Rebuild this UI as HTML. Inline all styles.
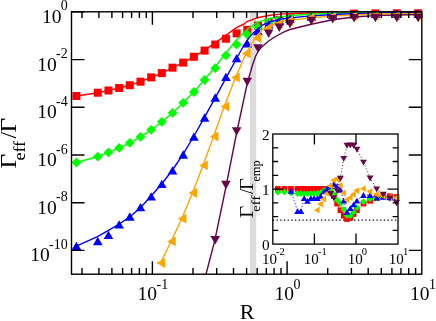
<!DOCTYPE html><html><head><meta charset="utf-8"><style>html,body{margin:0;padding:0;background:#fff}svg{display:block;will-change:transform}text{font-family:"Liberation Serif",serif;fill:#000}</style></head><body>
<svg width="436" height="321" viewBox="0 0 436 321">
<rect width="436" height="321" fill="#fff"/>
<rect x="250.0" y="11.8" width="6.2" height="261.2" fill="#dcdcdc"/>
<clipPath id="cm"><rect x="66.5" y="0" width="362.3" height="274.3"/></clipPath>
<g clip-path="url(#cm)">
<polyline fill="none" stroke="#ff0000" stroke-width="1.4" stroke-linejoin="round"  points="76.4,96.0 97.9,92.7 108.5,90.5 119.1,88.0 130.0,85.2 140.6,81.7 151.2,77.4 162.0,73.1 172.5,67.7 183.1,62.6 193.7,56.8 204.3,50.3 214.7,43.1 225.5,35.5 236.4,27.6 244.0,24.0 246.9,21.7 257.1,17.8 270.2,15.2 283.3,13.9 300.0,13.2 332.0,12.6 375.0,12.2 421.8,12.0"/>
<rect x="72.40" y="92.00" width="8.00" height="8.00" fill="#ff0000"/>
<rect x="93.76" y="88.70" width="8.00" height="8.00" fill="#ff0000"/>
<rect x="104.44" y="86.50" width="8.00" height="8.00" fill="#ff0000"/>
<rect x="115.12" y="84.00" width="8.00" height="8.00" fill="#ff0000"/>
<rect x="125.80" y="81.20" width="8.00" height="8.00" fill="#ff0000"/>
<rect x="136.48" y="77.70" width="8.00" height="8.00" fill="#ff0000"/>
<rect x="147.16" y="73.40" width="8.00" height="8.00" fill="#ff0000"/>
<rect x="157.84" y="69.10" width="8.00" height="8.00" fill="#ff0000"/>
<rect x="168.52" y="63.70" width="8.00" height="8.00" fill="#ff0000"/>
<rect x="179.20" y="58.60" width="8.00" height="8.00" fill="#ff0000"/>
<rect x="189.88" y="52.80" width="8.00" height="8.00" fill="#ff0000"/>
<rect x="200.56" y="46.60" width="8.00" height="8.00" fill="#ff0000"/>
<rect x="211.24" y="40.50" width="8.00" height="8.00" fill="#ff0000"/>
<rect x="221.92" y="34.70" width="8.00" height="8.00" fill="#ff0000"/>
<rect x="232.60" y="29.40" width="8.00" height="8.00" fill="#ff0000"/>
<rect x="243.28" y="25.80" width="8.00" height="8.00" fill="#ff0000"/>
<rect x="253.96" y="21.60" width="8.00" height="8.00" fill="#ff0000"/>
<rect x="264.64" y="18.30" width="8.00" height="8.00" fill="#ff0000"/>
<rect x="275.32" y="16.00" width="8.00" height="8.00" fill="#ff0000"/>
<rect x="286.00" y="14.20" width="8.00" height="8.00" fill="#ff0000"/>
<rect x="307.36" y="11.60" width="8.00" height="8.00" fill="#ff0000"/>
<rect x="328.72" y="10.90" width="8.00" height="8.00" fill="#ff0000"/>
<rect x="350.08" y="9.60" width="8.00" height="8.00" fill="#ff0000"/>
<rect x="371.44" y="9.40" width="8.00" height="8.00" fill="#ff0000"/>
<rect x="392.80" y="9.30" width="8.00" height="8.00" fill="#ff0000"/>
<rect x="414.16" y="9.30" width="8.00" height="8.00" fill="#ff0000"/>
<polyline fill="none" stroke="#00ff00" stroke-width="1.4" stroke-linejoin="round"  points="76.4,162.5 97.9,156.5 108.5,152.4 119.1,147.9 130.0,142.8 140.6,136.8 151.2,129.8 162.0,121.8 172.5,112.9 183.1,102.8 193.7,92.0 204.3,80.0 214.9,67.3 225.5,53.5 231.4,46.3 236.4,40.0 244.0,32.5 246.9,29.6 257.1,22.4 270.2,18.2 283.3,16.5 300.0,14.8 332.0,13.3 375.0,12.5 421.8,12.1"/>
<polygon fill="#00ff00" points="71.50,162.50 76.40,157.60 81.30,162.50 76.40,167.40"/>
<polygon fill="#00ff00" points="92.86,156.70 97.76,151.80 102.66,156.70 97.76,161.60"/>
<polygon fill="#00ff00" points="103.54,152.40 108.44,147.50 113.34,152.40 108.44,157.30"/>
<polygon fill="#00ff00" points="114.22,147.90 119.12,143.00 124.02,147.90 119.12,152.80"/>
<polygon fill="#00ff00" points="124.90,142.80 129.80,137.90 134.70,142.80 129.80,147.70"/>
<polygon fill="#00ff00" points="135.58,136.80 140.48,131.90 145.38,136.80 140.48,141.70"/>
<polygon fill="#00ff00" points="146.26,129.80 151.16,124.90 156.06,129.80 151.16,134.70"/>
<polygon fill="#00ff00" points="156.94,121.80 161.84,116.90 166.74,121.80 161.84,126.70"/>
<polygon fill="#00ff00" points="167.62,112.90 172.52,108.00 177.42,112.90 172.52,117.80"/>
<polygon fill="#00ff00" points="178.30,102.80 183.20,97.90 188.10,102.80 183.20,107.70"/>
<polygon fill="#00ff00" points="188.98,92.00 193.88,87.10 198.78,92.00 193.88,96.90"/>
<polygon fill="#00ff00" points="199.66,80.00 204.56,75.10 209.46,80.00 204.56,84.90"/>
<polygon fill="#00ff00" points="210.34,68.20 215.24,63.30 220.14,68.20 215.24,73.10"/>
<polygon fill="#00ff00" points="221.02,55.40 225.92,50.50 230.82,55.40 225.92,60.30"/>
<polygon fill="#00ff00" points="231.70,44.50 236.60,39.60 241.50,44.50 236.60,49.40"/>
<polygon fill="#00ff00" points="242.38,34.60 247.28,29.70 252.18,34.60 247.28,39.50"/>
<polygon fill="#00ff00" points="253.06,27.60 257.96,22.70 262.86,27.60 257.96,32.50"/>
<polygon fill="#00ff00" points="263.74,23.00 268.64,18.10 273.54,23.00 268.64,27.90"/>
<polygon fill="#00ff00" points="274.42,20.30 279.32,15.40 284.22,20.30 279.32,25.20"/>
<polygon fill="#00ff00" points="285.10,18.30 290.00,13.40 294.90,18.30 290.00,23.20"/>
<polygon fill="#00ff00" points="306.46,16.30 311.36,11.40 316.26,16.30 311.36,21.20"/>
<polygon fill="#00ff00" points="327.82,15.60 332.72,10.70 337.62,15.60 332.72,20.50"/>
<polygon fill="#00ff00" points="349.18,15.80 354.08,10.90 358.98,15.80 354.08,20.70"/>
<polygon fill="#00ff00" points="370.54,15.80 375.44,10.90 380.34,15.80 375.44,20.70"/>
<polygon fill="#00ff00" points="391.90,15.80 396.80,10.90 401.70,15.80 396.80,20.70"/>
<polygon fill="#00ff00" points="413.26,15.80 418.16,10.90 423.06,15.80 418.16,20.70"/>
<polyline fill="none" stroke="#0000ff" stroke-width="1.4" stroke-linejoin="round"  points="76.4,246.2 97.9,236.3 108.5,230.4 119.1,224.0 130.0,216.8 140.6,207.5 151.2,196.0 162.0,183.5 172.5,170.0 183.1,154.2 193.7,136.5 204.3,117.6 214.9,98.4 225.5,78.8 236.6,58.5 244.0,45.0 250.0,36.3 257.1,29.6 263.0,24.8 270.2,21.7 283.3,18.7 300.0,16.9 332.0,14.5 375.0,13.0 421.8,12.3"/>
<polygon fill="#0000ff" points="71.60,249.95 81.20,249.95 76.40,241.65"/>
<polygon fill="#0000ff" points="92.96,245.15 102.56,245.15 97.76,236.85"/>
<polygon fill="#0000ff" points="103.64,239.05 113.24,239.05 108.44,230.75"/>
<polygon fill="#0000ff" points="114.32,228.45 123.92,228.45 119.12,220.15"/>
<polygon fill="#0000ff" points="125.00,220.65 134.60,220.65 129.80,212.35"/>
<polygon fill="#0000ff" points="135.68,211.35 145.28,211.35 140.48,203.05"/>
<polygon fill="#0000ff" points="146.36,200.45 155.96,200.45 151.16,192.15"/>
<polygon fill="#0000ff" points="157.04,187.95 166.64,187.95 161.84,179.65"/>
<polygon fill="#0000ff" points="167.72,174.55 177.32,174.55 172.52,166.25"/>
<polygon fill="#0000ff" points="178.40,158.65 188.00,158.65 183.20,150.35"/>
<polygon fill="#0000ff" points="189.08,140.75 198.68,140.75 193.88,132.45"/>
<polygon fill="#0000ff" points="199.76,121.65 209.36,121.65 204.56,113.35"/>
<polygon fill="#0000ff" points="210.44,101.65 220.04,101.65 215.24,93.35"/>
<polygon fill="#0000ff" points="221.12,80.95 230.72,80.95 225.92,72.65"/>
<polygon fill="#0000ff" points="231.80,62.35 241.40,62.35 236.60,54.05"/>
<polygon fill="#0000ff" points="242.48,47.45 252.08,47.45 247.28,39.15"/>
<polygon fill="#0000ff" points="253.16,35.15 262.76,35.15 257.96,26.85"/>
<polygon fill="#0000ff" points="263.84,28.55 273.44,28.55 268.64,20.25"/>
<polygon fill="#0000ff" points="274.52,25.15 284.12,25.15 279.32,16.85"/>
<polygon fill="#0000ff" points="285.20,22.65 294.80,22.65 290.00,14.35"/>
<polygon fill="#0000ff" points="306.56,20.65 316.16,20.65 311.36,12.35"/>
<polygon fill="#0000ff" points="327.92,19.35 337.52,19.35 332.72,11.05"/>
<polygon fill="#0000ff" points="349.28,18.45 358.88,18.45 354.08,10.15"/>
<polygon fill="#0000ff" points="370.64,18.05 380.24,18.05 375.44,9.75"/>
<polygon fill="#0000ff" points="392.00,17.85 401.60,17.85 396.80,9.55"/>
<polygon fill="#0000ff" points="413.36,17.85 422.96,17.85 418.16,9.55"/>
<polyline fill="none" stroke="#ffa500" stroke-width="1.4" stroke-linejoin="round"  points="160.6,262.8 171.2,241.0 181.8,218.7 192.4,193.0 203.0,165.4 213.6,136.3 224.2,106.6 235.3,78.0 246.0,53.5 252.2,43.0 256.3,36.5 262.5,29.5 270.2,25.0 283.3,21.1 300.0,19.1 332.0,16.0 375.0,14.0 421.8,13.4"/>
<polygon fill="#ffa500" points="165.04,258.10 165.04,267.90 156.44,263.00"/>
<polygon fill="#ffa500" points="175.72,236.50 175.72,246.30 167.12,241.40"/>
<polygon fill="#ffa500" points="186.40,213.80 186.40,223.60 177.80,218.70"/>
<polygon fill="#ffa500" points="197.08,188.10 197.08,197.90 188.48,193.00"/>
<polygon fill="#ffa500" points="207.76,160.50 207.76,170.30 199.16,165.40"/>
<polygon fill="#ffa500" points="218.44,131.60 218.44,141.40 209.84,136.50"/>
<polygon fill="#ffa500" points="229.12,101.70 229.12,111.50 220.52,106.60"/>
<polygon fill="#ffa500" points="239.80,72.60 239.80,82.40 231.20,77.50"/>
<polygon fill="#ffa500" points="250.48,48.50 250.48,58.30 241.88,53.40"/>
<polygon fill="#ffa500" points="261.16,33.30 261.16,43.10 252.56,38.20"/>
<polygon fill="#ffa500" points="271.84,23.30 271.84,33.10 263.24,28.20"/>
<polygon fill="#ffa500" points="282.52,19.10 282.52,28.90 273.92,24.00"/>
<polygon fill="#ffa500" points="293.20,16.10 293.20,25.90 284.60,21.00"/>
<polygon fill="#ffa500" points="314.56,12.80 314.56,22.60 305.96,17.70"/>
<polygon fill="#ffa500" points="335.92,11.70 335.92,21.50 327.32,16.60"/>
<polygon fill="#ffa500" points="357.28,11.10 357.28,20.90 348.68,16.00"/>
<polygon fill="#ffa500" points="378.64,10.80 378.64,20.60 370.04,15.70"/>
<polygon fill="#ffa500" points="400.00,10.60 400.00,20.40 391.40,15.50"/>
<polygon fill="#ffa500" points="421.36,10.60 421.36,20.40 412.76,15.50"/>
<polyline fill="none" stroke="#670748" stroke-width="1.4" stroke-linejoin="round"  points="206.0,274.3 214.8,240.4 225.8,187.5 236.6,133.0 247.2,83.5 252.5,65.0 255.5,56.5 258.0,51.5 260.5,48.2 264.0,45.0 268.3,41.3 272.0,38.7 277.4,35.5 283.6,32.2 289.9,29.5 300.0,27.0 311.2,24.2 332.6,19.8 353.8,17.0 375.0,15.6 396.0,15.0 421.8,14.5"/>
<polygon fill="#670748" points="210.44,236.05 220.04,236.05 215.24,244.55"/>
<polygon fill="#670748" points="221.12,180.75 230.72,180.75 225.92,189.25"/>
<polygon fill="#670748" points="231.80,127.25 241.40,127.25 236.60,135.75"/>
<polygon fill="#670748" points="242.48,77.75 252.08,77.75 247.28,86.25"/>
<polygon fill="#670748" points="253.16,44.35 262.76,44.35 257.96,52.85"/>
<polygon fill="#670748" points="263.84,29.55 273.44,29.55 268.64,38.05"/>
<polygon fill="#670748" points="274.52,23.55 284.12,23.55 279.32,32.05"/>
<polygon fill="#670748" points="285.20,19.75 294.80,19.75 290.00,28.25"/>
<polygon fill="#670748" points="306.56,16.75 316.16,16.75 311.36,25.25"/>
<polygon fill="#670748" points="327.92,15.05 337.52,15.05 332.72,23.55"/>
<polygon fill="#670748" points="349.28,14.05 358.88,14.05 354.08,22.55"/>
<polygon fill="#670748" points="370.64,13.85 380.24,13.85 375.44,22.35"/>
<polygon fill="#670748" points="392.00,13.75 401.60,13.75 396.80,22.25"/>
<polygon fill="#670748" points="413.36,13.75 422.96,13.75 418.16,22.25"/>
</g>
<g stroke="#000" stroke-width="1.4" fill="none" stroke-linecap="butt">
<rect x="71.5" y="11.8" width="350.3" height="262.4"/>
<path d="M71.5 11.8h13.0 M421.8 11.8h-13.0 M71.5 59.6h13.0 M421.8 59.6h-13.0 M71.5 107.3h13.0 M421.8 107.3h-13.0 M71.5 155.0h13.0 M421.8 155.0h-13.0 M71.5 202.7h13.0 M421.8 202.7h-13.0 M71.5 250.4h13.0 M421.8 250.4h-13.0 M82.0 274.3v-6.3 M82.0 11.8v6.3 M98.9 274.3v-6.3 M98.9 11.8v6.3 M111.9 274.3v-6.3 M111.9 11.8v6.3 M122.6 274.3v-6.3 M122.6 11.8v6.3 M131.6 274.3v-6.3 M131.6 11.8v6.3 M139.4 274.3v-6.3 M139.4 11.8v6.3 M146.3 274.3v-6.3 M146.3 11.8v6.3 M152.4 274.3v-13.0 M152.4 11.8v13.0 M193.0 274.3v-6.3 M193.0 11.8v6.3 M216.7 274.3v-6.3 M216.7 11.8v6.3 M233.5 274.3v-6.3 M233.5 11.8v6.3 M246.6 274.3v-6.3 M246.6 11.8v6.3 M257.2 274.3v-6.3 M257.2 11.8v6.3 M266.3 274.3v-6.3 M266.3 11.8v6.3 M274.1 274.3v-6.3 M274.1 11.8v6.3 M281.0 274.3v-6.3 M281.0 11.8v6.3 M287.1 274.3v-13.0 M287.1 11.8v13.0 M327.7 274.3v-6.3 M327.7 11.8v6.3 M351.4 274.3v-6.3 M351.4 11.8v6.3 M368.2 274.3v-6.3 M368.2 11.8v6.3 M381.3 274.3v-6.3 M381.3 11.8v6.3 M391.9 274.3v-6.3 M391.9 11.8v6.3 M400.9 274.3v-6.3 M400.9 11.8v6.3 M408.7 274.3v-6.3 M408.7 11.8v6.3 M415.6 274.3v-6.3 M415.6 11.8v6.3"/>
</g>
<text x="67.7" y="22.8" text-anchor="end" font-size="19.5">10<tspan font-size="14" dx="-0.8" dy="-12.4">0</tspan></text>
<text x="67.7" y="70.5" text-anchor="end" font-size="19.5">10<tspan font-size="14" dx="-0.8" dy="-12.4">-2</tspan></text>
<text x="67.7" y="118.2" text-anchor="end" font-size="19.5">10<tspan font-size="14" dx="-0.8" dy="-12.4">-4</tspan></text>
<text x="67.7" y="165.9" text-anchor="end" font-size="19.5">10<tspan font-size="14" dx="-0.8" dy="-12.4">-6</tspan></text>
<text x="67.7" y="213.6" text-anchor="end" font-size="19.5">10<tspan font-size="14" dx="-0.8" dy="-12.4">-8</tspan></text>
<text x="67.7" y="261.3" text-anchor="end" font-size="19.5">10<tspan font-size="14" dx="-0.8" dy="-12.4">-10</tspan></text>
<text x="137.6" y="300.3" font-size="19.5">10<tspan font-size="14" dx="-0.5" dy="-11.8">-1</tspan></text>
<text x="274.6" y="300.3" font-size="19.5">10<tspan font-size="14" dx="-0.5" dy="-11.8">0</tspan></text>
<text x="410.0" y="300.3" font-size="19.5">10<tspan font-size="14" dx="-0.5" dy="-11.8">1</tspan></text>
<text x="239.8" y="318.9" font-size="22">R</text>
<text transform="translate(16.30,168.50) rotate(-90) scale(1.060,1)" font-size="24.00" style="font-variant-ligatures:none">&#915;</text>
<text transform="translate(25.40,160.60) rotate(-90) scale(1.130,1)" font-size="16.00" style="font-variant-ligatures:none">eff</text>
<text transform="translate(16.00,138.40) rotate(-90) scale(1.000,1)" font-size="23.50" style="font-variant-ligatures:none">/</text>
<text transform="translate(16.30,132.50) rotate(-90) scale(1.060,1)" font-size="24.00" style="font-variant-ligatures:none">&#915;</text>
<rect x="272.8" y="134.0" width="125.2" height="110.1" fill="#fff"/>
<line x1="272.8" y1="220.1" x2="398.0" y2="220.1" stroke="#000" stroke-width="1.4" stroke-dasharray="1.3 2.4"/>
<clipPath id="ci"><rect x="272.8" y="134.0" width="128.2" height="110.1"/></clipPath>
<g clip-path="url(#ci)">
<polyline fill="none" stroke="#ff0000" stroke-width="1.0" stroke-linejoin="round" stroke-dasharray="1 2.2" points="277.8,188.9 284.4,188.9 291.0,188.9 297.6,188.9 300.9,188.9 304.2,188.9 307.5,188.9 310.8,188.9 314.1,188.9 317.4,188.9 320.7,188.9 323.9,188.9 327.2,188.9 330.5,190.5 333.8,196.0 337.1,203.6 340.4,210.2 343.7,215.8 347.0,219.0 350.3,217.7 353.6,214.0 356.9,210.2 363.5,203.6 370.1,200.8 376.7,198.0 383.3,196.2 389.9,196.2 396.4,197.0"/>
<rect x="274.97" y="186.05" width="5.70" height="5.70" fill="#ff0000"/>
<rect x="281.56" y="186.05" width="5.70" height="5.70" fill="#ff0000"/>
<rect x="288.15" y="186.05" width="5.70" height="5.70" fill="#ff0000"/>
<rect x="294.74" y="186.05" width="5.70" height="5.70" fill="#ff0000"/>
<rect x="298.03" y="186.05" width="5.70" height="5.70" fill="#ff0000"/>
<rect x="301.33" y="186.05" width="5.70" height="5.70" fill="#ff0000"/>
<rect x="304.62" y="186.05" width="5.70" height="5.70" fill="#ff0000"/>
<rect x="307.92" y="186.05" width="5.70" height="5.70" fill="#ff0000"/>
<rect x="311.21" y="186.05" width="5.70" height="5.70" fill="#ff0000"/>
<rect x="314.51" y="186.05" width="5.70" height="5.70" fill="#ff0000"/>
<rect x="317.80" y="186.05" width="5.70" height="5.70" fill="#ff0000"/>
<rect x="321.10" y="186.05" width="5.70" height="5.70" fill="#ff0000"/>
<rect x="324.39" y="186.05" width="5.70" height="5.70" fill="#ff0000"/>
<rect x="327.69" y="187.65" width="5.70" height="5.70" fill="#ff0000"/>
<rect x="330.98" y="193.15" width="5.70" height="5.70" fill="#ff0000"/>
<rect x="334.28" y="200.75" width="5.70" height="5.70" fill="#ff0000"/>
<rect x="337.57" y="207.35" width="5.70" height="5.70" fill="#ff0000"/>
<rect x="340.87" y="212.95" width="5.70" height="5.70" fill="#ff0000"/>
<rect x="344.16" y="216.15" width="5.70" height="5.70" fill="#ff0000"/>
<rect x="347.46" y="214.85" width="5.70" height="5.70" fill="#ff0000"/>
<rect x="350.75" y="211.15" width="5.70" height="5.70" fill="#ff0000"/>
<rect x="354.05" y="207.35" width="5.70" height="5.70" fill="#ff0000"/>
<rect x="360.64" y="200.75" width="5.70" height="5.70" fill="#ff0000"/>
<rect x="367.23" y="197.95" width="5.70" height="5.70" fill="#ff0000"/>
<rect x="373.82" y="195.15" width="5.70" height="5.70" fill="#ff0000"/>
<rect x="380.41" y="193.35" width="5.70" height="5.70" fill="#ff0000"/>
<rect x="387.00" y="193.35" width="5.70" height="5.70" fill="#ff0000"/>
<rect x="393.59" y="194.15" width="5.70" height="5.70" fill="#ff0000"/>
<polyline fill="none" stroke="#00ff00" stroke-width="1.0" stroke-linejoin="round" stroke-dasharray="1 2.2" points="277.8,192.2 284.4,192.0 291.0,193.0 297.6,193.6 300.9,193.6 304.2,193.8 307.5,193.8 310.8,193.6 314.1,193.6 317.4,193.4 320.7,192.5 323.9,190.5 327.2,188.9 330.5,190.0 333.8,194.0 337.1,200.0 340.4,203.5 343.7,209.5 347.0,215.8 350.3,215.8 353.6,212.0 356.9,207.4 363.5,201.8 370.1,199.0 376.7,198.0 383.3,197.0 389.9,198.0 396.4,198.0"/>
<polygon fill="#00ff00" points="274.52,192.20 277.82,188.90 281.12,192.20 277.82,195.50"/>
<polygon fill="#00ff00" points="281.11,192.00 284.41,188.70 287.71,192.00 284.41,195.30"/>
<polygon fill="#00ff00" points="287.70,193.00 291.00,189.70 294.30,193.00 291.00,196.30"/>
<polygon fill="#00ff00" points="294.29,193.60 297.59,190.30 300.89,193.60 297.59,196.90"/>
<polygon fill="#00ff00" points="297.58,193.60 300.88,190.30 304.19,193.60 300.88,196.90"/>
<polygon fill="#00ff00" points="300.88,193.80 304.18,190.50 307.48,193.80 304.18,197.10"/>
<polygon fill="#00ff00" points="304.18,193.80 307.48,190.50 310.78,193.80 307.48,197.10"/>
<polygon fill="#00ff00" points="307.47,193.60 310.77,190.30 314.07,193.60 310.77,196.90"/>
<polygon fill="#00ff00" points="310.76,193.60 314.06,190.30 317.37,193.60 314.06,196.90"/>
<polygon fill="#00ff00" points="314.06,193.40 317.36,190.10 320.66,193.40 317.36,196.70"/>
<polygon fill="#00ff00" points="317.35,192.50 320.65,189.20 323.95,192.50 320.65,195.80"/>
<polygon fill="#00ff00" points="320.65,190.50 323.95,187.20 327.25,190.50 323.95,193.80"/>
<polygon fill="#00ff00" points="323.94,188.90 327.25,185.60 330.55,188.90 327.25,192.20"/>
<polygon fill="#00ff00" points="327.24,190.00 330.54,186.70 333.84,190.00 330.54,193.30"/>
<polygon fill="#00ff00" points="330.53,194.00 333.83,190.70 337.13,194.00 333.83,197.30"/>
<polygon fill="#00ff00" points="333.83,200.00 337.13,196.70 340.43,200.00 337.13,203.30"/>
<polygon fill="#00ff00" points="337.12,203.50 340.43,200.20 343.73,203.50 340.43,206.80"/>
<polygon fill="#00ff00" points="340.42,209.50 343.72,206.20 347.02,209.50 343.72,212.80"/>
<polygon fill="#00ff00" points="343.71,215.80 347.01,212.50 350.31,215.80 347.01,219.10"/>
<polygon fill="#00ff00" points="347.01,215.80 350.31,212.50 353.61,215.80 350.31,219.10"/>
<polygon fill="#00ff00" points="350.31,212.00 353.61,208.70 356.91,212.00 353.61,215.30"/>
<polygon fill="#00ff00" points="353.60,207.40 356.90,204.10 360.20,207.40 356.90,210.70"/>
<polygon fill="#00ff00" points="360.19,201.80 363.49,198.50 366.79,201.80 363.49,205.10"/>
<polygon fill="#00ff00" points="366.78,199.00 370.08,195.70 373.38,199.00 370.08,202.30"/>
<polygon fill="#00ff00" points="373.37,198.00 376.67,194.70 379.97,198.00 376.67,201.30"/>
<polygon fill="#00ff00" points="379.96,197.00 383.26,193.70 386.56,197.00 383.26,200.30"/>
<polygon fill="#00ff00" points="386.55,198.00 389.85,194.70 393.15,198.00 389.85,201.30"/>
<polygon fill="#00ff00" points="393.14,198.00 396.44,194.70 399.74,198.00 396.44,201.30"/>
<polyline fill="none" stroke="#0000ff" stroke-width="1.0" stroke-linejoin="round" stroke-dasharray="1 2.2" points="291.0,191.1 297.6,211.3 300.9,211.3 304.2,198.3 307.5,201.1 310.8,198.3 314.1,198.3 317.4,198.3 320.7,196.2 323.9,191.5 327.2,188.7 330.5,186.0 333.8,184.0 337.1,186.0 340.4,190.0 343.7,200.8 347.0,212.0 350.3,208.3 353.6,204.6 356.9,200.8 363.5,195.2 370.1,195.2 376.7,197.7 383.3,197.0 389.9,197.5 396.4,198.0"/>
<polygon fill="#0000ff" points="287.60,193.80 294.40,193.80 291.00,188.00"/>
<polygon fill="#0000ff" points="294.19,214.00 300.99,214.00 297.59,208.20"/>
<polygon fill="#0000ff" points="297.49,214.00 304.28,214.00 300.88,208.20"/>
<polygon fill="#0000ff" points="300.78,201.00 307.58,201.00 304.18,195.20"/>
<polygon fill="#0000ff" points="304.08,203.80 310.88,203.80 307.48,198.00"/>
<polygon fill="#0000ff" points="307.37,201.00 314.17,201.00 310.77,195.20"/>
<polygon fill="#0000ff" points="310.67,201.00 317.46,201.00 314.06,195.20"/>
<polygon fill="#0000ff" points="313.96,201.00 320.76,201.00 317.36,195.20"/>
<polygon fill="#0000ff" points="317.25,198.90 324.05,198.90 320.65,193.10"/>
<polygon fill="#0000ff" points="320.55,194.20 327.35,194.20 323.95,188.40"/>
<polygon fill="#0000ff" points="323.85,191.40 330.64,191.40 327.25,185.60"/>
<polygon fill="#0000ff" points="327.14,188.70 333.94,188.70 330.54,182.90"/>
<polygon fill="#0000ff" points="330.44,186.70 337.23,186.70 333.83,180.90"/>
<polygon fill="#0000ff" points="333.73,188.70 340.53,188.70 337.13,182.90"/>
<polygon fill="#0000ff" points="337.03,192.70 343.82,192.70 340.43,186.90"/>
<polygon fill="#0000ff" points="340.32,203.50 347.12,203.50 343.72,197.70"/>
<polygon fill="#0000ff" points="343.62,214.70 350.41,214.70 347.01,208.90"/>
<polygon fill="#0000ff" points="346.91,211.00 353.71,211.00 350.31,205.20"/>
<polygon fill="#0000ff" points="350.21,207.30 357.00,207.30 353.61,201.50"/>
<polygon fill="#0000ff" points="353.50,203.50 360.30,203.50 356.90,197.70"/>
<polygon fill="#0000ff" points="360.09,197.90 366.89,197.90 363.49,192.10"/>
<polygon fill="#0000ff" points="366.68,197.90 373.48,197.90 370.08,192.10"/>
<polygon fill="#0000ff" points="373.27,200.40 380.07,200.40 376.67,194.60"/>
<polygon fill="#0000ff" points="379.86,199.70 386.66,199.70 383.26,193.90"/>
<polygon fill="#0000ff" points="386.45,200.20 393.25,200.20 389.85,194.40"/>
<polygon fill="#0000ff" points="393.04,200.70 399.84,200.70 396.44,194.90"/>
<polyline fill="none" stroke="#ffa500" stroke-width="1.0" stroke-linejoin="round" stroke-dasharray="1 2.2" points="317.4,210.2 320.7,204.0 323.9,199.0 327.2,193.4 330.5,186.0 333.8,180.3 337.1,179.0 340.4,185.5 343.7,193.0 347.0,199.9 350.3,197.7 353.6,194.3 356.9,190.6 363.5,188.7 370.1,191.5 376.7,194.3 383.3,196.0 389.9,197.0 396.4,198.0"/>
<polygon fill="#ffa500" points="319.56,206.80 319.56,213.60 313.76,210.20"/>
<polygon fill="#ffa500" points="322.85,200.60 322.85,207.40 317.06,204.00"/>
<polygon fill="#ffa500" points="326.15,195.60 326.15,202.40 320.35,199.00"/>
<polygon fill="#ffa500" points="329.44,190.00 329.44,196.80 323.65,193.40"/>
<polygon fill="#ffa500" points="332.74,182.60 332.74,189.40 326.94,186.00"/>
<polygon fill="#ffa500" points="336.03,176.90 336.03,183.70 330.24,180.30"/>
<polygon fill="#ffa500" points="339.33,175.60 339.33,182.40 333.53,179.00"/>
<polygon fill="#ffa500" points="342.62,182.10 342.62,188.90 336.83,185.50"/>
<polygon fill="#ffa500" points="345.92,189.60 345.92,196.40 340.12,193.00"/>
<polygon fill="#ffa500" points="349.21,196.50 349.21,203.30 343.42,199.90"/>
<polygon fill="#ffa500" points="352.51,194.30 352.51,201.10 346.71,197.70"/>
<polygon fill="#ffa500" points="355.81,190.90 355.81,197.70 350.01,194.30"/>
<polygon fill="#ffa500" points="359.10,187.20 359.10,194.00 353.30,190.60"/>
<polygon fill="#ffa500" points="365.69,185.30 365.69,192.10 359.89,188.70"/>
<polygon fill="#ffa500" points="372.28,188.10 372.28,194.90 366.48,191.50"/>
<polygon fill="#ffa500" points="378.87,190.90 378.87,197.70 373.07,194.30"/>
<polygon fill="#ffa500" points="385.46,192.60 385.46,199.40 379.66,196.00"/>
<polygon fill="#ffa500" points="392.05,193.60 392.05,200.40 386.25,197.00"/>
<polygon fill="#ffa500" points="398.64,194.60 398.64,201.40 392.84,198.00"/>
<polyline fill="none" stroke="#670748" stroke-width="1.0" stroke-linejoin="round" stroke-dasharray="1 2.2" points="330.5,193.4 333.8,197.7 337.1,190.6 340.4,178.2 343.7,158.4 347.0,145.3 350.3,145.0 353.6,145.3 356.9,149.3 363.5,162.1 370.1,178.0 376.7,188.9 383.3,194.3 389.9,198.0 396.4,202.7"/>
<polygon fill="#670748" points="327.09,190.95 333.99,190.95 330.54,196.85"/>
<polygon fill="#670748" points="330.38,195.25 337.28,195.25 333.83,201.15"/>
<polygon fill="#670748" points="333.68,188.15 340.58,188.15 337.13,194.05"/>
<polygon fill="#670748" points="336.98,175.75 343.88,175.75 340.43,181.65"/>
<polygon fill="#670748" points="340.27,155.95 347.17,155.95 343.72,161.85"/>
<polygon fill="#670748" points="343.56,142.85 350.46,142.85 347.01,148.75"/>
<polygon fill="#670748" points="346.86,142.55 353.76,142.55 350.31,148.45"/>
<polygon fill="#670748" points="350.16,142.85 357.06,142.85 353.61,148.75"/>
<polygon fill="#670748" points="353.45,146.85 360.35,146.85 356.90,152.75"/>
<polygon fill="#670748" points="360.04,159.65 366.94,159.65 363.49,165.55"/>
<polygon fill="#670748" points="366.63,175.55 373.53,175.55 370.08,181.45"/>
<polygon fill="#670748" points="373.22,186.45 380.12,186.45 376.67,192.35"/>
<polygon fill="#670748" points="379.81,191.85 386.71,191.85 383.26,197.75"/>
<polygon fill="#670748" points="386.40,195.55 393.30,195.55 389.85,201.45"/>
<polygon fill="#670748" points="392.99,200.25 399.89,200.25 396.44,206.15"/>
</g>
<g stroke="#000" stroke-width="1.3" fill="none">
<rect x="272.8" y="134.0" width="125.2" height="110.1"/>
<path d="M272.8 230.3h5.4 M398.0 230.3h-5.4 M272.8 216.6h5.4 M398.0 216.6h-5.4 M272.8 202.8h5.4 M398.0 202.8h-5.4 M272.8 189.1h10.5 M398.0 189.1h-10.5 M272.8 175.3h5.4 M398.0 175.3h-5.4 M272.8 161.5h5.4 M398.0 161.5h-5.4 M272.8 147.8h5.4 M398.0 147.8h-5.4 M314.4 244.1v-10.5 M314.4 134.0v10.5 M356.0 244.1v-10.5 M356.0 134.0v10.5"/>
</g>
<text x="269.6" y="249.6" text-anchor="end" font-size="15.3">0</text>
<text x="269.6" y="194.6" text-anchor="end" font-size="15.3">1</text>
<text x="269.6" y="139.5" text-anchor="end" font-size="15.3">2</text>
<text x="273.4" y="263.9" text-anchor="middle" font-size="15">10<tspan font-size="10.6" dx="-0.8" dy="-8.7">-2</tspan></text>
<text x="315.2" y="263.9" text-anchor="middle" font-size="15">10<tspan font-size="10.6" dx="-0.8" dy="-8.7">-1</tspan></text>
<text x="357.4" y="263.9" text-anchor="middle" font-size="15">10<tspan font-size="10.6" dx="-0.8" dy="-8.7">0</tspan></text>
<text x="398.6" y="263.9" text-anchor="middle" font-size="15">10<tspan font-size="10.6" dx="-0.8" dy="-8.7">1</tspan></text>
<text transform="translate(252.60,218.00) rotate(-90) scale(1.150,1)" font-size="18.40" style="font-variant-ligatures:none">&#915;</text>
<text transform="translate(260.00,211.70) rotate(-90) scale(1.130,1)" font-size="13.00" style="font-variant-ligatures:none">eff</text>
<text transform="translate(252.50,193.90) rotate(-90) scale(1.000,1)" font-size="18.40" style="font-variant-ligatures:none">/</text>
<text transform="translate(252.60,190.20) rotate(-90) scale(1.150,1)" font-size="18.40" style="font-variant-ligatures:none">&#915;</text>
<text transform="translate(260.00,181.60) rotate(-90) scale(0.950,1)" font-size="13.00" style="font-variant-ligatures:none">emp</text>
</svg></body></html>
